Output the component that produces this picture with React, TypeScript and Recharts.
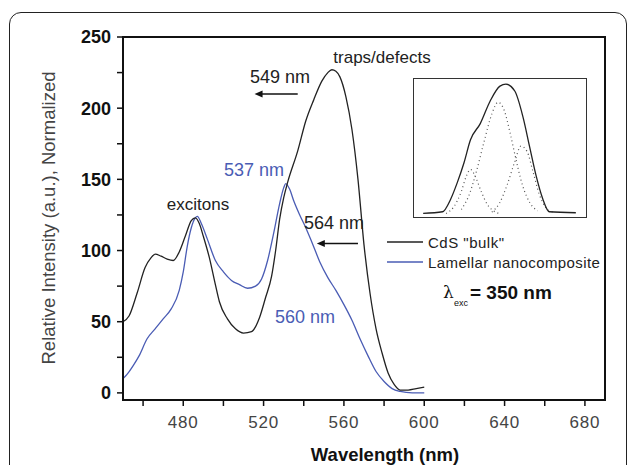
import React from "react";
import {
  LineChart,
  Line,
  XAxis,
  YAxis,
  ReferenceArea,
  ReferenceLine,
  ReferenceDot,
} from "recharts";

// main spectra (wavelength in nm, normalized intensity)
const bulkNm = [450, 453, 457, 461, 464, 466, 469, 472, 475, 478, 481, 484, 486, 488, 490, 493, 496, 498, 502, 506, 510, 514, 518, 521, 524, 526, 528, 530, 532, 537, 541, 545, 549, 552, 554, 556, 558, 561, 564, 567, 570, 573, 576, 579, 582, 585, 588, 592, 596, 600];
const bulkVal = [50, 54, 70, 88, 95, 97.5, 96, 94, 93, 99, 110, 121, 123, 119, 110, 95, 76, 64, 52, 45, 42, 43, 53, 67, 82, 100, 122, 137, 148, 170, 191, 206, 219, 225, 227, 226, 222, 208, 185, 150, 104, 70, 45, 28, 14, 6, 2, 2, 3, 4];

const lamNm = [450, 452, 455, 458, 462, 466, 470, 474, 478, 480, 482, 484, 486, 487, 489, 492, 496, 500, 504, 508, 512, 516, 519, 522, 525, 528, 530, 531, 533, 535, 538, 541, 544, 548, 552, 556, 560, 564, 568, 572, 576, 580, 584, 588, 594, 600];
const lamVal = [10, 13, 19, 26, 38, 45, 52, 59, 72, 85, 103, 116, 123, 124, 119, 108, 93, 85, 79, 76, 73.5, 75, 80, 93, 112, 133, 144, 147, 143, 135, 125, 116, 106, 92, 81, 72, 62, 51, 38, 26, 15, 8, 3, 1, 0, 0];

const xTicks = [460, 480, 500, 520, 540, 560, 580, 600, 620, 640, 660, 680];
const yTicks = [0, 25, 50, 75, 100, 125, 150, 175, 200, 225, 250];

// inset: trap band and its dotted components (arbitrary units)
const insetX = [0, 12.7, 18, 22.4, 26.7, 31, 37.4, 43.9, 50.3, 54.2, 60, 65.4, 69.7, 74, 78.3, 82.6, 100];
const insetY = [0, 1.3, 11, 24, 39, 57, 69.5, 87, 98.5, 100, 94.7, 74.5, 51.7, 29, 11.4, 1.3, 0.5];
const compAX = [15, 20, 25, 28, 31, 34, 38, 42, 46, 50];
const compAY = [0, 5, 17, 28, 34, 29, 17, 7, 2, 0];
const compBX = [25, 30, 35, 40, 45, 49, 53, 57, 60, 65, 70, 75];
const compBY = [3, 14, 33, 56, 77, 86, 80, 62, 46, 22, 8, 2];
const compCX = [45, 50, 55, 60, 64, 68, 72, 76, 80, 85];
const compCY = [1, 8, 22, 40, 52, 48, 32, 15, 5, 1];

const toRows = (xs: number[], ys: number[]) => xs.map((x, i) => ({ x, y: ys[i] }));

const bulkData = toRows(bulkNm, bulkVal);
const lamData = toRows(lamNm, lamVal);

const FONT = '"Liberation Sans", Arial, sans-serif';
const BLACK = "#222";
const BLUE = "#4a5cb4";

const arrowHead = (props: any) => (
  <path
    d={`M${props.cx},${props.cy} l8,-3.5 v7 z`}
    fill="#111"
  />
);

function Inset() {
  return (
    <div
      style={{
        position: "absolute",
        left: 413,
        top: 78,
        width: 174,
        height: 140,
        border: "1.5px solid #333",
        boxSizing: "border-box",
        background: "#fff",
      }}
    >
      <LineChart width={171} height={137} margin={{ top: 0, right: 0, bottom: 0, left: 0 }}>
        <XAxis type="number" dataKey="x" domain={[-6, 106]} hide />
        <YAxis type="number" domain={[-2, 104]} hide />
        <Line data={toRows(compAX, compAY)} dataKey="y" type="monotone" stroke="#555" strokeWidth={1.2} strokeDasharray="1 3" dot={false} isAnimationActive={false} />
        <Line data={toRows(compBX, compBY)} dataKey="y" type="monotone" stroke="#555" strokeWidth={1.2} strokeDasharray="1 3" dot={false} isAnimationActive={false} />
        <Line data={toRows(compCX, compCY)} dataKey="y" type="monotone" stroke="#555" strokeWidth={1.2} strokeDasharray="1 3" dot={false} isAnimationActive={false} />
        <Line data={toRows(insetX, insetY)} dataKey="y" type="monotone" stroke={BLACK} strokeWidth={1.3} dot={false} isAnimationActive={false} />
      </LineChart>
    </div>
  );
}

export default function App() {
  return (
    <div
      style={{
        position: "absolute",
        left: 0,
        top: 0,
        width: 629,
        height: 465,
        overflow: "hidden",
        background: "#fff",
        fontFamily: FONT,
      }}
    >
      {/* outer rounded frame */}
      <div
        style={{
          position: "absolute",
          left: 9,
          top: 12,
          width: 618,
          height: 520,
          border: "1.5px solid #222",
          borderRadius: 12,
          boxSizing: "border-box",
        }}
      />

      <div style={{ position: "absolute", left: 0, top: 0 }}>
        <LineChart width={629} height={465} margin={{ top: 37, right: 24, bottom: 0, left: 63 }}>
          <XAxis
            type="number"
            dataKey="x"
            domain={[450, 690]}
            ticks={xTicks}
            interval={0}
            height={65}
            tickSize={6}
            tickMargin={10}
            tickFormatter={(v: number) => (v % 40 === 0 ? String(v) : "")}
            tick={{ fontSize: 17, fill: "#444", fontFamily: FONT, letterSpacing: 0.8 }}
            axisLine={{ stroke: "#111", strokeWidth: 2 }}
            tickLine={{ stroke: "#111", strokeWidth: 1.5 }}
          />
          <YAxis
            type="number"
            domain={[-5, 250]}
            ticks={yTicks}
            interval={0}
            width={60}
            tickSize={6}
            tickMargin={6}
            tickFormatter={(v: number) => (v % 50 === 0 ? String(v) : "")}
            tick={{ fontSize: 18, fill: "#111", fontWeight: "bold", fontFamily: FONT }}
            axisLine={{ stroke: "#111", strokeWidth: 2 }}
            tickLine={{ stroke: "#111", strokeWidth: 1.5 }}
          />
          <ReferenceArea x1={450} x2={690} y1={-5} y2={250} fill="none" stroke="#111" strokeWidth={2} ifOverflow="visible" />
          <Line data={lamData} dataKey="y" type="monotone" stroke={BLUE} strokeWidth={1.3} dot={false} isAnimationActive={false} />
          <Line data={bulkData} dataKey="y" type="monotone" stroke={BLACK} strokeWidth={1.3} dot={false} isAnimationActive={false} />
          <ReferenceLine segment={[{ x: 537, y: 210 }, { x: 518, y: 210 }]} stroke="#111" strokeWidth={1.5} />
          <ReferenceDot x={515.5} y={210} r={0} shape={arrowHead} />
          <ReferenceLine segment={[{ x: 567, y: 105 }, { x: 549, y: 105 }]} stroke="#111" strokeWidth={1.5} />
          <ReferenceDot x={546.5} y={105} r={0} shape={arrowHead} />
        </LineChart>
      </div>

      <Inset />

      {/* annotations, axis titles, legend */}
      <svg
        width={629}
        height={465}
        style={{ position: "absolute", left: 0, top: 0, pointerEvents: "none" }}
        fontFamily={FONT}
      >
        <text x={48} y={218} transform="rotate(-90 48 218)" textAnchor="middle" dominantBaseline="central" fontSize={18.5} fill="#444">
          Relative Intensity (a.u.), Normalized
        </text>
        <text x={385} y={461} textAnchor="middle" fontSize={18.5} fontWeight="bold" fill="#111">
          Wavelength (nm)
        </text>

        <text x={382} y={57} textAnchor="middle" dominantBaseline="central" fontSize={17} fill={BLACK}>traps/defects</text>
        <text x={280} y={77} textAnchor="middle" dominantBaseline="central" fontSize={18} fill={BLACK}>549 nm</text>
        <text x={254} y={170} textAnchor="middle" dominantBaseline="central" fontSize={18} fill={BLUE}>537 nm</text>
        <text x={198} y={204} textAnchor="middle" dominantBaseline="central" fontSize={17} fill={BLACK}>excitons</text>
        <text x={334} y={223} textAnchor="middle" dominantBaseline="central" fontSize={18} fill={BLACK}>564 nm</text>
        <text x={305} y={317} textAnchor="middle" dominantBaseline="central" fontSize={18} fill={BLUE}>560 nm</text>

        <line x1={387} y1={242} x2={423} y2={242} stroke={BLACK} strokeWidth={1.3} />
        <text x={428} y={242} dominantBaseline="central" fontSize={15} letterSpacing={0.5} fill={BLACK}>CdS "bulk"</text>
        <line x1={387} y1={262} x2={423} y2={262} stroke={BLUE} strokeWidth={1.3} />
        <text x={428} y={262} dominantBaseline="central" fontSize={15} letterSpacing={0.4} fill={BLACK}>Lamellar nanocomposite</text>

        <text x={443} y={292} dominantBaseline="central" fontSize={17} fill="#111" fontFamily='"DejaVu Serif", serif'>λ</text>
        <text x={454} y={303} dominantBaseline="central" fontSize={9} fill="#111">exc</text>
        <text x={470} y={292} dominantBaseline="central" fontSize={19} fontWeight="bold" fill="#111">= 350 nm</text>
      </svg>
    </div>
  );
}
